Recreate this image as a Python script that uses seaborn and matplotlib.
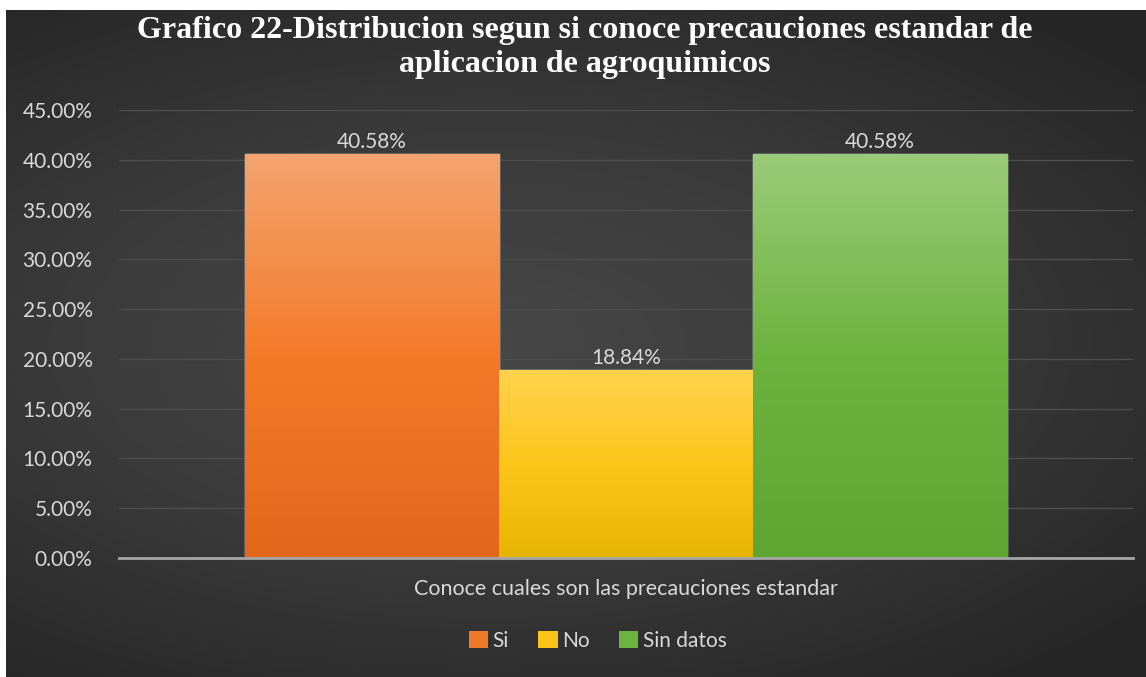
import numpy as np
import pandas as pd
import seaborn as sns
import matplotlib.pyplot as plt
from matplotlib.colors import LinearSegmentedColormap
from matplotlib.patches import Patch

# data
categoria = ["Conoce cuales son las precauciones estandar"]
respuestas = ["Si", "No", "Sin datos"]
porcentajes = [40.58, 18.84, 40.58]

titulo_1 = "Grafico 22-Distribucion segun si conoce precauciones estandar de"
titulo_2 = "aplicacion de agroquimicos"
yticks = [0, 5, 10, 15, 20, 25, 30, 35, 40, 45]

colores = ["#F07A2B", "#FAC318", "#6DB33F"]
# gradient stops (top, middle, bottom) per bar
degradados = [
    ["#F3A46E", "#F47A29", "#E3671B"],
    ["#FFD34E", "#FDC51A", "#E8B402"],
    ["#9ACB78", "#6CB33E", "#5FA532"],
]

df = pd.DataFrame({
    "cat": categoria * len(respuestas),
    "resp": respuestas,
    "val": porcentajes,
})

sns.set_theme(style="dark")
plt.rcParams["font.family"] = ["Lato", "DejaVu Sans"]
txt = "#D9D9D9"
fs = 15

W, H = 1146, 677
fig = plt.figure(figsize=(W / 100, H / 100), dpi=100)
fig.patch.set_facecolor("white")

# dark radial background like the excel chart style
bg = fig.add_axes([6 / W, 0, (W - 6) / W, (H - 10) / H])
yy, xx = np.mgrid[0:1:300j, 0:1:500j]
r = np.sqrt(((xx - 0.42) / 0.9) ** 2 + ((yy - 0.5) / 0.75) ** 2)
bg_cmap = LinearSegmentedColormap.from_list("bg", ["#474747", "#3a3a3a", "#262626"])
bg.imshow(r, cmap=bg_cmap, aspect="auto", extent=[0, 1, 0, 1], vmin=0, vmax=0.85)
bg.set_axis_off()

ax = fig.add_axes([119 / W, 1 - 558 / H, 1014 / W, 448 / H])
ax.patch.set_alpha(0)
sns.barplot(data=df, x="cat", y="val", hue="resp", hue_order=respuestas,
            palette=colores, width=0.752, ax=ax, legend=False, errorbar=None,
            saturation=1)

ax.set_xlim(-0.5, 0.5)
ax.set_ylim(0, 45)
ax.set_yticks(yticks)
ax.set_yticklabels([f"{v:.2f}%" for v in yticks])
ax.grid(axis="y", color="#4e4e4e", linewidth=1)
ax.set_axisbelow(True)
for s in ["top", "right", "left"]:
    ax.spines[s].set_visible(False)
ax.spines["bottom"].set_color("#A6A6A6")
ax.spines["bottom"].set_linewidth(2)
ax.tick_params(axis="y", colors=txt, labelsize=fs, length=0, pad=19)
ax.tick_params(axis="x", colors=txt, labelsize=15.5, length=0, pad=15)
ax.set_xlabel("")
ax.set_ylabel("")

# vertical gradient on each bar
for patch, stops in zip(ax.patches, degradados):
    x0, y0 = patch.get_x(), patch.get_y()
    w, h = patch.get_width(), patch.get_height()
    cm = LinearSegmentedColormap.from_list("g", stops[::-1])
    grad = np.linspace(0, 1, 256).reshape(-1, 1)
    im = ax.imshow(grad, cmap=cm, aspect="auto", origin="lower",
                   extent=[x0, x0 + w, y0, y0 + h], zorder=patch.get_zorder() + 0.1)
    im.set_clip_path(patch)
ax.set_xlim(-0.5, 0.5)
ax.set_ylim(0, 45)

for c in ax.containers:
    ax.bar_label(c, fmt="%.2f%%", color=txt, fontsize=fs, padding=1.5)

tx = 584.5 / W
fig.text(tx, 1 - 38 / H, titulo_1, ha="center", va="baseline", color="white",
         fontsize=23, fontweight="bold", family="Liberation Serif")
fig.text(tx, 1 - 72 / H, titulo_2, ha="center", va="baseline", color="white",
         fontsize=23, fontweight="bold", family="Liberation Serif")

handles = [Patch(facecolor=c, edgecolor="none") for c in colores]
fig.legend(handles, respuestas, loc="center", bbox_to_anchor=(597.5 / W, 1 - 641 / H),
           ncol=3, frameon=False, fontsize=fs, labelcolor=txt,
           handlelength=0.95, handleheight=0.85, handletextpad=0.2, columnspacing=1.4,
           borderpad=0, borderaxespad=0)

fig.savefig("out.png", dpi=100, facecolor=fig.get_facecolor())
